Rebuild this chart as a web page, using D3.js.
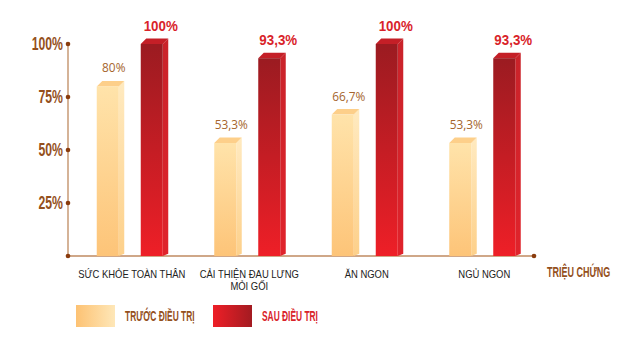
<!DOCTYPE html>
<html><head><meta charset="utf-8">
<script src="https://cdn.jsdelivr.net/npm/d3@7"></script>
<style>
html,body{margin:0;padding:0;background:#fff;}
</style></head>
<body><svg id="c" width="640" height="357"></svg>
<script>
const categories = [["SỨC KHỎE TOÀN THÂN"], ["CẢI THIỆN ĐAU LƯNG", "MỎI GỐI"], ["ĂN NGON"], ["NGỦ NGON"]];
const seriesNames = ["TRƯỚC ĐIỀU TRỊ", "SAU ĐIỀU TRỊ"];
const before = [80, 53.3, 66.7, 53.3];
const after = [100, 93.3, 100, 93.3];
const tickValues = [25, 50, 75, 100];
const tickLabels = ["25%", "50%", "75%", "100%"];
const xAxisTitle = "TRIỆU CHỨNG";

const svg = d3.select("#c");
const defs = svg.append("defs");
function grad(id, stops, x2, y2) {
  const g = defs.append("linearGradient").attr("id", id)
    .attr("x1", 0).attr("y1", 0).attr("x2", x2).attr("y2", y2);
  stops.forEach((c, i) => g.append("stop").attr("offset", i / (stops.length - 1)).attr("stop-color", c));
}
grad("bFront", ["#ffe3aa", "#fdc478"], 0, 1);
grad("bSide", ["#ffeac0", "#fdd08a"], 0, 1);
grad("rFront", ["#9b1b21", "#ee1f27"], 0, 1);
grad("rSide", ["#c9232a", "#e0232b"], 0, 1);
grad("lgB", ["#fdc273", "#fee7b8"], 1, 0);
grad("lgR", ["#ee1f27", "#a31b21"], 1, 0);

const BOLD = "'Liberation Sans', Arial, sans-serif";
// text drawn inside a horizontally squeezed group (simulates a condensed typeface)
function ctext(parent, x, y, k, txt, opts) {
  const g = parent.append("g").attr("transform", `translate(${x},${y}) scale(${k},1)`);
  const t = g.append("text").attr("x", 0).attr("y", 0)
    .attr("text-anchor", opts.anchor || "start")
    .attr("font-family", opts.family || BOLD)
    .attr("font-weight", opts.weight || "bold")
    .attr("font-size", opts.size).attr("fill", opts.fill).text(txt);
  if (opts.dy) t.attr("dy", opts.dy);
  return t;
}

const y = d3.scaleLinear().domain([0, 100]).range([256, 44]);
const x0 = d3.scaleBand().domain(d3.range(categories.length)).range([73, 543]).padding(0);
const x1 = d3.scaleBand().domain(seriesNames).range([-35, 31]).paddingInner(0.5).paddingOuter(0);
const bw = x1.bandwidth();
const d = 5.5;

const axisColor = "#bf8a60", dotColor = "#8a3c0e", brown = "#94501c", red = "#d9232a";

// axes
const axX = 68, axR = 534;
svg.append("line").attr("x1", axX).attr("x2", axX).attr("y1", y(100)).attr("y2", y(0))
  .attr("stroke", axisColor).attr("stroke-width", 1.3);
svg.append("line").attr("x1", axX).attr("x2", axR).attr("y1", y(0)).attr("y2", y(0))
  .attr("stroke", axisColor).attr("stroke-width", 1.3);
svg.append("circle").attr("cx", axX).attr("cy", y(0)).attr("r", 2.3).attr("fill", dotColor);
svg.append("circle").attr("cx", axR).attr("cy", y(0)).attr("r", 2.3).attr("fill", dotColor);

const yAxis = svg.append("g");
tickValues.forEach((v, i) => {
  yAxis.append("circle").attr("cx", axX).attr("cy", y(v)).attr("r", 2.3).attr("fill", dotColor);
  ctext(yAxis, 63, y(v), 0.68, tickLabels[i], {anchor: "end", size: 18, fill: brown, dy: "0.36em"});
});

// bars
const series = [
  {name: seriesNames[0], vals: before, front: "url(#bFront)", side: "url(#bSide)", top: "#fdcf8a", lab: "#a5652d", bold: false},
  {name: seriesNames[1], vals: after, front: "url(#rFront)", side: "url(#rSide)", top: "#c41f27", lab: red, bold: true}
];
series.forEach(s => {
  s.vals.forEach((v, i) => {
    const xl = x0(i) + x0.bandwidth() / 2 + x1(s.name);
    const yt = y(v), yb = y(0);
    const g = svg.append("g");
    g.append("polygon").attr("points", [[xl + bw, yt], [xl + bw + d, yt - d], [xl + bw + d, yb - d * 0.4], [xl + bw, yb]].join(" "))
      .attr("fill", s.side);
    g.append("polygon").attr("points", [[xl, yt], [xl + d, yt - d], [xl + bw + d, yt - d], [xl + bw, yt]].join(" "))
      .attr("fill", s.top);
    g.append("rect").attr("x", xl).attr("y", yt).attr("width", bw).attr("height", yb - yt).attr("fill", s.front);
    const lbl = (v + "").replace(".", ",") + "%";
    if (s.bold) {
      ctext(g, xl + bw / 2 + 9, yt - 13, 0.92, lbl, {anchor: "middle", size: 14.5, fill: s.lab});
    } else {
      ctext(g, xl + bw / 2 + 6, yt - 14, 0.95, lbl, {anchor: "middle", size: 12.5, fill: s.lab,
        family: "'Open Sans', 'Noto Sans', sans-serif", weight: 400});
    }
  });
});

// category labels
categories.forEach((lines, i) => {
  lines.forEach((l, j) => {
    ctext(svg, x0(i) + x0.bandwidth() / 2, 278 + j * 12, 0.9, l, {anchor: "middle", size: 10.5, fill: "#222",
      family: "'Liberation Sans', Arial, sans-serif", weight: 400});
  });
});
ctext(svg, 547, 277, 0.58, xAxisTitle, {size: 15.5, fill: brown});

// legend
const lg = [{fill: "url(#lgB)", col: brown, x: 76}, {fill: "url(#lgR)", col: red, x: 213}];
lg.forEach((l, i) => {
  svg.append("rect").attr("x", l.x).attr("y", 305).attr("width", 39).attr("height", 22).attr("fill", l.fill);
  ctext(svg, l.x + 49, 321, 0.6, seriesNames[i], {size: 14, fill: l.col});
});
</script></body></html>
